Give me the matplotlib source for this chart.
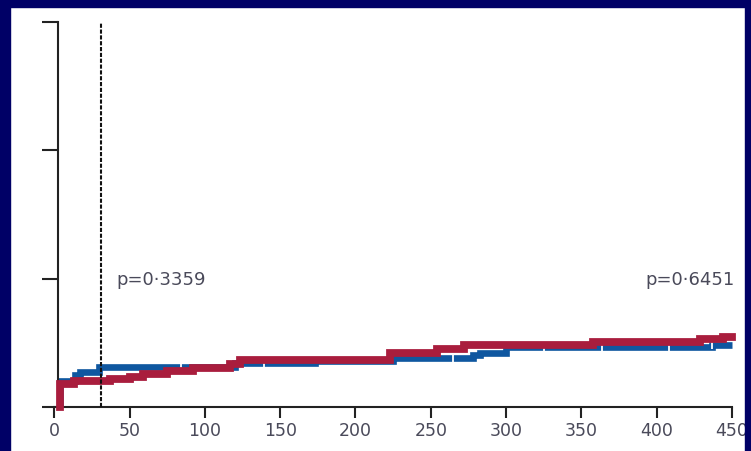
import numpy as np
import matplotlib.pyplot as plt
from matplotlib.patches import Rectangle

# Cumulative event curves (step functions), days vs %
red_t = [4, 13, 37, 50, 59, 75, 92, 117, 123, 223, 254, 272, 358, 429, 444, 450]
red_y = [1.8, 2.0, 2.2, 2.35, 2.55, 2.8, 3.05, 3.35, 3.65, 4.18, 4.52, 4.86, 5.04, 5.30, 5.43, 5.43]

blue_t = [4, 14, 17, 30, 120, 173, 225, 278, 283, 300, 437, 450]
blue_y = [2.0, 2.5, 2.75, 3.1, 3.4, 3.6, 3.8, 4.05, 4.23, 4.65, 4.8, 4.8]

# censored times on the blue curve
blue_cens = [84, 139, 265, 325, 364, 408, 437]

landmark = 31
p_left = 'p=0·3359'
p_right = 'p=0·6451'

x_ticks = [0, 50, 100, 150, 200, 250, 300, 350, 400, 450]
y_ticks = [0, 10, 20, 30]

RED = '#a91d3d'
BLUE = '#0f57a0'
NAVY = '#000066'
TXT = '#4a4a5a'

fig = plt.figure(figsize=(7.51, 4.51), dpi=100)
ax = fig.add_axes([0.0723, 0.0976, 0.9024, 0.8537])


def steps(t, y):
    xs, ys = [t[0], t[0]], [0, y[0]]
    for i in range(1, len(t)):
        xs += [t[i], t[i]]
        ys += [y[i - 1], y[i]]
    return xs, ys


bx, by = steps(blue_t, blue_y)
ax.plot(bx, by, color=BLUE, lw=4.8, solid_joinstyle='miter',
        solid_capstyle='butt', zorder=2, clip_on=False)

cy = [blue_y[np.searchsorted(blue_t, c, side='right') - 1] for c in blue_cens]
ax.plot(blue_cens, cy, ls='none', marker='|', ms=6, mew=1.3, color='white', zorder=3)

rx, ry = steps(red_t, red_y)
ax.plot(rx, ry, color=RED, lw=5.6, solid_joinstyle='miter',
        solid_capstyle='projecting', zorder=4, clip_on=False)

ax.plot([landmark, landmark], [0, 30], color='#111111', lw=1.5,
        ls=(0, (2.0, 0.8)), zorder=5, clip_on=False)

ax.text(41.5, 9.5, p_left, fontsize=13, color=TXT, va='baseline', ha='left')
ax.text(452, 9.5, p_right, fontsize=13, color=TXT, va='baseline', ha='right')

ax.set_xlim(0, 450)
ax.set_ylim(0, 30)
ax.set_xticks(x_ticks)
ax.set_yticks(y_ticks)
ax.set_yticklabels([])

for s in ['top', 'right']:
    ax.spines[s].set_visible(False)
ax.spines['left'].set_position(('data', 2.3))
for s in ['left', 'bottom']:
    ax.spines[s].set_linewidth(1.5)
    ax.spines[s].set_color('#222222')

ax.tick_params(axis='x', direction='out', length=8, width=1.5, color='#222222',
               labelsize=12.5, labelcolor=TXT, pad=2.5)
ax.tick_params(axis='y', direction='out', length=11.5, width=1.5, color='#222222')
ax.patch.set_alpha(0)

# navy frame around the panel
W, H = 751, 451
for x0, y0, w, h in [(0, H - 7, W, 7), (0, 0, 10, H), (745, 0, 6, H)]:
    fig.patches.append(Rectangle((x0 / W, y0 / H), w / W, h / H,
                                 transform=fig.transFigure, color=NAVY, zorder=10))

fig.savefig('out.png', dpi=100)
